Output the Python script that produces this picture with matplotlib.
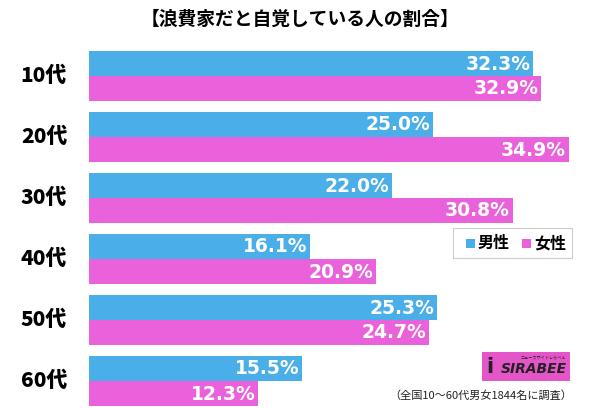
import matplotlib.pyplot as plt
from matplotlib.patches import Rectangle

plt.rcParams["font.family"] = ["Noto Sans CJK JP", "DejaVu Sans"]

# data
ages = ["10代", "20代", "30代", "40代", "50代", "60代"]
male = [32.3, 25.0, 22.0, 16.1, 25.3, 15.5]
female = [32.9, 34.9, 30.8, 20.9, 24.7, 12.3]
series_names = ["男性", "女性"]
title = "【浪費家だと自覚している人の割合】"
note = "（全国10～60代男女1844名に調査）"

BLUE = "#4aaee9"
PINK = "#e962db"

W, H = 600, 408
fig = plt.figure(figsize=(W / 100, H / 100), dpi=100)

# axes placed in pixel terms
left_px, right_px = 89, 584
top_px, bottom_px = 51, 406
ax = fig.add_axes([left_px / W, 1 - bottom_px / H, (right_px - left_px) / W, (bottom_px - top_px) / H])
ax.set_xlim(0, 36)
ax.set_ylim(355, 0)
ax.axis("off")

step, bh = 61, 25
for i, (m, f) in enumerate(zip(male, female)):
    y0 = i * step
    ax.barh(y0 + bh / 2, m, height=bh, color=BLUE, align="center")
    ax.barh(y0 + bh * 1.5, f, height=bh, color=PINK, align="center")
    ax.text(m - 0.2, y0 + bh / 2 + 0.5, f"{m:.1f}%", color="white", fontsize=13.5,
            fontweight="bold", ha="right", va="center", family=["DejaVu Sans"])
    ax.text(f - 0.2, y0 + bh * 1.5 + 0.5, f"{f:.1f}%", color="white", fontsize=13.5,
            fontweight="bold", ha="right", va="center", family=["DejaVu Sans"])
    fig.text(44 / W, 1 - (top_px + y0 + bh) / H, ages[i], fontsize=15, fontweight="black",
             ha="center", va="center")

fig.text(0.5, 1 - 19 / H, title, fontsize=13.5, fontweight="bold", ha="center", va="center")

# legend box
fig.patches.append(Rectangle((453 / W, 1 - 258 / H), 119 / W, 30 / H, transform=fig.transFigure,
                             facecolor="white", edgecolor="#cccccc", lw=0.8))
for x, c, name in [(466, BLUE, series_names[0]), (522, PINK, series_names[1])]:
    fig.patches.append(Rectangle((x / W, 1 - 248 / H), 9 / W, 9 / H, transform=fig.transFigure,
                                 facecolor=c, edgecolor="none"))
    fig.text((x + 12) / W, 1 - 243 / H, name, fontsize=11.5, fontweight="bold", va="center")

# logo
fig.patches.append(Rectangle((482 / W, 1 - 381 / H), 88 / W, 29 / H, transform=fig.transFigure,
                             facecolor="#e455c8", edgecolor="none"))
fig.text(534 / W, 1 - 369 / H, "SIRABEE", fontsize=10, fontweight="bold", fontstyle="italic",
         ha="center", va="center", color="#222222", family=["DejaVu Sans"])
fig.text(543 / W, 1 - 358 / H, "ニュースサイトしらべぇ", fontsize=3, ha="center", va="center",
         color="#222222")
fig.text(490 / W, 1 - 367 / H, "i", fontsize=15, fontweight="bold", ha="center", va="center",
         color="#222222", family=["DejaVu Sans"])

fig.text(572 / W, 1 - 396 / H, note, fontsize=8, ha="right", va="center", color="#222222")

fig.savefig("out.png", dpi=100)
